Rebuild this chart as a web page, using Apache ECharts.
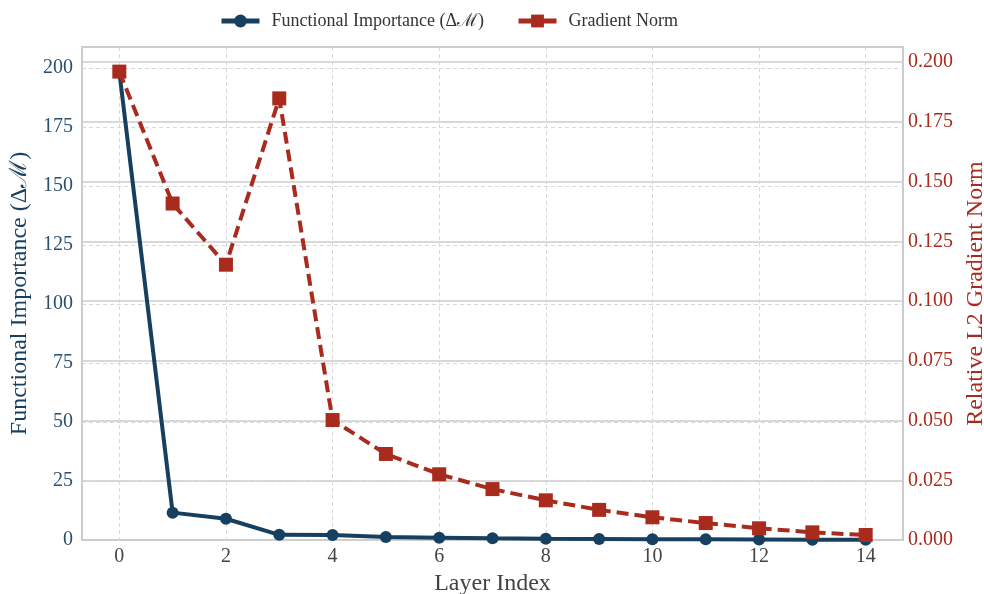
<!DOCTYPE html>
<html>
<head>
<meta charset="utf-8">
<script src="https://cdn.jsdelivr.net/npm/echarts@6/dist/echarts.min.js"></script>
<style>
  html, body { margin: 0; padding: 0; background: #fff; }
  #chart { width: 984px; height: 594px; }
</style>
</head>
<body>
<div id="chart"></div>
<script>
// layer indices on the x axis
const layers = [0, 1, 2, 3, 4, 5, 6, 7, 8, 9, 10, 11, 12, 13, 14]
const xTicks = [0, 2, 4, 6, 8, 10, 12, 14]

const functionalImportance = [198.5, 11.6, 9.0, 2.2, 2.1, 1.3, 1.0, 0.7, 0.5, 0.4, 0.3, 0.3, 0.2, 0.1, 0.1]
const gradientNorm = [0.196, 0.1408, 0.1152, 0.1848, 0.0502, 0.036, 0.0275, 0.0213, 0.0166, 0.0126, 0.0095, 0.0071, 0.0049, 0.0032, 0.0021]

const blue = '#173f5f'
const red = '#a92b1e'
const font = '"Liberation Serif", "DejaVu Serif", serif'

const chart = echarts.init(document.getElementById('chart'))

chart.setOption({
  animation: false,
  textStyle: { fontFamily: font },
  legend: {
    top: 7,
    left: 214,
    itemWidth: 38,
    itemHeight: 16,
    itemGap: 32,
    lineStyle: { type: 'solid', width: 5 },
    textStyle: { fontSize: 18, color: '#333', fontFamily: font, padding: [0, 0, 0, 7] },
    data: ['Functional Importance (Δℳ)', 'Gradient Norm']
  },
  grid: {
    left: 82,
    right: 81,
    top: 47,
    bottom: 54,
    outerBoundsMode: 'none',
    containLabel: false,
    show: true,
    borderColor: '#cccccc',
    borderWidth: 2,
    backgroundColor: 'transparent'
  },
  xAxis: {
    type: 'value',
    min: -0.7,
    max: 14.7,
    name: 'Layer Index',
    nameLocation: 'middle',
    nameGap: 28,
    nameTextStyle: { fontSize: 24, color: '#444', fontFamily: font },
    axisLine: { show: false },
    axisTick: { show: false, customValues: xTicks },
    axisLabel: { customValues: xTicks, fontSize: 20, color: '#444', margin: 7, fontFamily: font },
    splitLine: { show: true, lineStyle: { color: '#d8d8d8', type: [4, 3], width: 1 } }
  },
  yAxis: [
    {
      type: 'value',
      min: 0,
      max: 209,
      interval: 25,
      name: 'Functional Importance (Δℳ)',
      nameLocation: 'middle',
      nameGap: 45,
      nameTextStyle: { fontSize: 24, color: blue, fontFamily: font },
      axisLine: { show: false },
      axisTick: { show: false },
      axisLabel: { fontSize: 20, color: '#2b4f70', margin: 9, showMaxLabel: false, fontFamily: font },
      splitLine: { show: true, lineStyle: { color: '#d8d8d8', type: [4, 3], width: 1 } }
    },
    {
      type: 'value',
      min: 0,
      max: 0.2063,
      interval: 0.025,
      name: 'Relative L2 Gradient Norm',
      nameLocation: 'middle',
      nameGap: 57,
      nameRotate: 90,
      nameTextStyle: { fontSize: 24, color: red, fontFamily: font },
      axisLine: { show: false },
      axisTick: { show: false },
      axisLabel: {
        fontSize: 20,
        color: red,
        margin: 5,
        showMaxLabel: false,
        fontFamily: font,
        formatter: v => v.toFixed(3)
      },
      splitLine: { show: true, lineStyle: { color: '#cccccc', width: 1.5 } }
    }
  ],
  series: [
    {
      name: 'Functional Importance (Δℳ)',
      type: 'line',
      yAxisIndex: 0,
      data: layers.map((x, i) => [x, functionalImportance[i]]),
      symbol: 'circle',
      symbolSize: 12,
      lineStyle: { color: blue, width: 4 },
      itemStyle: { color: blue },
      z: 3
    },
    {
      name: 'Gradient Norm',
      type: 'line',
      yAxisIndex: 1,
      data: layers.map((x, i) => [x, gradientNorm[i]]),
      symbol: 'rect',
      symbolSize: 14,
      lineStyle: { color: red, width: 4, type: [12, 6] },
      itemStyle: { color: red },
      z: 4
    }
  ]
})
</script>
</body>
</html>
